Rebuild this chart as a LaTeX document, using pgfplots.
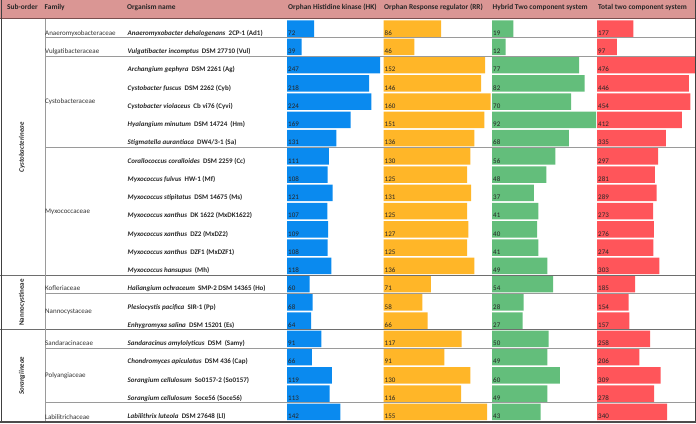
\documentclass[border=0pt]{standalone}
\usepackage{fontspec}
\setmainfont{Carlito}
\usepackage{pgfplots}
\usepackage{pgfplotstable}
\pgfplotsset{compat=1.18}
\definecolor{hdr}{HTML}{DA9694}
\definecolor{hdrline}{HTML}{7A4F4F}
\definecolor{cHK}{HTML}{0A8AEF}
\definecolor{cRR}{HTML}{FFB628}
\definecolor{cHY}{HTML}{63BE7B}
\definecolor{cTOT}{HTML}{FF555A}
\definecolor{famline}{HTML}{9A9A9A}
\definecolor{subline}{HTML}{6E6E6E}

\pgfplotstableread{
row hk rr hy tot
1 72 86 19 177
2 39 46 12 97
3 247 152 77 476
4 218 146 82 446
5 224 160 70 454
6 169 151 92 412
7 131 136 68 335
8 111 130 56 297
9 108 125 48 281
10 121 131 37 289
11 107 125 41 273
12 109 127 40 276
13 108 125 41 274
14 118 136 49 303
15 60 71 54 185
16 68 58 28 154
17 64 66 27 157
18 91 117 50 258
19 66 91 49 206
20 119 130 60 309
21 113 116 49 278
22 142 155 43 340
}\data

\newcommand{\hfont}{\fontsize{7.4}{8}\selectfont\bfseries}
\newcommand{\tfont}{\fontsize{7}{8}\selectfont}
\pgfplotsset{
  cellaxis/.style={
    anchor=north west, scale only axis, height=401.5pt,
    xmin=0, ymin=0.5, ymax=22.5, y dir=reverse,
    enlargelimits=false, hide axis, clip=false,
    /pgf/number format/assume math mode=true
  },
  vallabels/.style={
    draw=none, mark=none, nodes near coords, point meta=explicit,
    nodes near coords style={anchor=base west, inner sep=0pt, xshift=1pt, yshift=-6.8pt,
      font=\tfont, text=black!85, /pgf/number format/assume math mode=true}
  },
}

\begin{document}
\begin{tikzpicture}[x=1pt,y=-1pt]
\useasboundingbox (0,0) rectangle (696,423);
% header band
\fill[hdr] (0,0) rectangle (696,18.8);
\draw[hdrline, line width=0.8pt] (0,18.8) -- (696,18.8);
\foreach \x/\t in {7/Sub-order, 44.5/Family, 127/Organism name, 288/Orphan Histidine kinase (HK),
  384/Orphan Response regulator (RR), 492.5/Hybrid Two component system, 598/Total two component system}
  \node[anchor=base west, inner sep=0pt, font=\hfont, text=black!85] at (\x,9.2) {\t};

% data bars
\begin{axis}[cellaxis, at={(287pt,-19.5pt)}, width=93pt, xmax=247]
\addplot[xbar, bar width=16.6pt, fill=cHK, draw=none] table[x=hk, y=row] {\data};
\addplot[vallabels] table[x expr=0, y=row, meta=hk] {\data};
\end{axis}
\begin{axis}[cellaxis, at={(383.5pt,-19.5pt)}, width=107pt, xmax=160]
\addplot[xbar, bar width=16.6pt, fill=cRR, draw=none] table[x=rr, y=row] {\data};
\addplot[vallabels] table[x expr=0, y=row, meta=rr] {\data};
\end{axis}
\begin{axis}[cellaxis, at={(492pt,-19.5pt)}, width=104pt, xmax=92]
\addplot[xbar, bar width=16.6pt, fill=cHY, draw=none] table[x=hy, y=row] {\data};
\addplot[vallabels] table[x expr=0, y=row, meta=hy] {\data};
\end{axis}
\begin{axis}[cellaxis, at={(597pt,-19.5pt)}, width=98pt, xmax=476]
\addplot[xbar, bar width=16.6pt, fill=cTOT, draw=none] table[x=tot, y=row] {\data};
\addplot[vallabels] table[x expr=0, y=row, meta=tot] {\data};
\end{axis}

% grid lines
\foreach \r in {1,2,7,15,18,21}
  \draw[famline, line width=0.7pt] (45,19.5+18.25*\r) -- (696,19.5+18.25*\r);
\foreach \r in {14,17}
  \draw[subline, line width=0.8pt] (0,19.5+18.25*\r) -- (696,19.5+18.25*\r);
\draw[famline, line width=0.7pt] (45,19) -- (45,421);
% border
\draw[black!75, line width=1pt] (1,0) -- (1,421.5);
\draw[black!75, line width=1pt] (695.2,0) -- (695.2,421.5);
\draw[black!70, line width=1.6pt] (0,421.8) -- (696,421.8);

% organism names
\foreach \r/\g/\s in {
 1/Anaeromyxobacter dehalogenans/2CP-1 (Ad1),
 2/Vulgatibacter incomptus/DSM 27710 (Vul),
 3/Archangium gephyra/DSM 2261 (Ag),
 4/Cystobacter fuscus/DSM 2262 (Cyb),
 5/Cystobacter violaceus/Cb vi76 (Cyvi),
 6/Hyalangium minutum/DSM 14724~ (Hm),
 7/Stigmatella aurantiaca/{DW4/3-1 (Sa)},
 8/Corallococcus coralloides/DSM 2259 (Cc),
 9/Myxococcus fulvus/HW-1 (Mf),
 10/Myxococcus stipitatus/DSM 14675 (Ms),
 11/Myxococcus xanthus/DK 1622 (MxDK1622),
 12/Myxococcus xanthus/DZ2 (MxDZ2),
 13/Myxococcus xanthus/DZF1 (MxDZF1),
 14/Myxococcus hansupus/(Mh),
 15/Haliangium ochraceum/SMP-2 DSM 14365 (Ho),
 16/Plesiocystis pacifica/SIR-1 (Pp),
 17/Enhygromyxa salina/DSM 15201 (Es),
 18/Sandaracinus amylolyticus/DSM~ (Samy),
 19/Chondromyces apiculatus/DSM 436 (Cap),
 20/Sorangium cellulosum/So0157-2 (So0157),
 21/Sorangium cellulosum/Soce56 (Soce56),
 22/Labilithrix luteola/DSM 27648 (Ll)}
  \node[anchor=base west, inner sep=0pt, font=\tfont\bfseries, text=black!85]
    at (127.5,19.5+18.25*\r-2.4) {\textit{\g}~~\s};

% families
\foreach \y/\t in {35.4/Anaeromyxobacteraceae, 53.6/Vulgatibacteraceae, 103.6/Cystobacteraceae,
  213.2/Myxococcaceae, 290.8/Kofleriaceae, 313.8/Nannocystaceae, 345.6/Sandaracinaceae,
  377.8/Polyangiaceae, 419.0/Labilitrichaceae}
  \node[anchor=base west, inner sep=0pt, font=\tfont, text=black!80] at (45,\y) {\t};

% sub-orders
\node[rotate=90, font=\tfont\bfseries, text=black!85] at (22,147.3) {\textit{Cystobacterineae}};
\node[rotate=90, font=\tfont\bfseries, text=black!85] at (22,302.5) {Nannocystineae};
\node[rotate=90, font=\tfont\bfseries, text=black!85] at (22,375.8) {\textit{Sorangiineae}};
\end{tikzpicture}
\end{document}
